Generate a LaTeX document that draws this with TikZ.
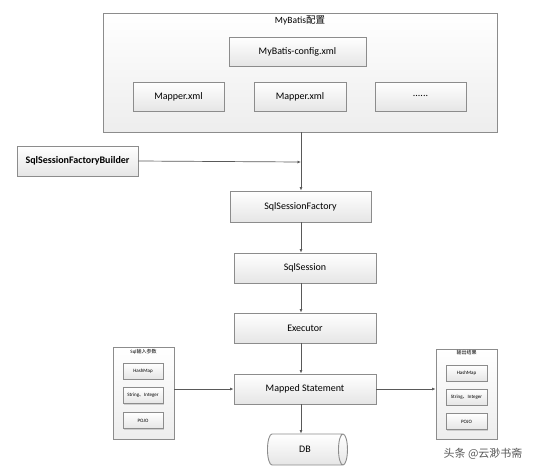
\documentclass[tikz,border=0pt]{standalone}
\usepackage{fontspec}
\setmainfont{Carlito}
\newfontfamily\cjk{Noto Sans CJK SC}
\usetikzlibrary{shapes.geometric,arrows.meta,shadows}
\definecolor{bordergray}{HTML}{8C8C8C}
\definecolor{linegray}{HTML}{595959}
\tikzset{
  boxbase/.style={draw=bordergray, line width=0.9pt, top color=white, bottom color=black!10, inner sep=0pt,
    drop shadow={shadow xshift=1pt, shadow yshift=-1pt, opacity=0.25, fill=black!60}},
  stepbox/.style={boxbase, minimum width=142pt, minimum height=30pt, font=\fontsize{10}{12}\selectfont},
  smallbox/.style={boxbase, line width=0.6pt, minimum width=41pt, minimum height=16pt, font=\fontsize{5}{6}\selectfont},
  groupbox/.style={draw=bordergray, line width=0.9pt, top color=white, bottom color=black!7, inner sep=0pt,
    drop shadow={shadow xshift=1pt, shadow yshift=-1pt, opacity=0.2, fill=black!60}},
  arr/.style={draw=linegray, line width=0.7pt, -{Latex[length=3.5pt,width=3pt]}},
}
\begin{document}
\begin{tikzpicture}[x=1pt,y=-1pt]
\useasboundingbox (0,0) rectangle (554,467);
% MyBatis configuration group
\node[groupbox, minimum width=394pt, minimum height=119pt] (conf) at (300,72.5) {};
\node[font=\fontsize{9.5}{11}\selectfont] (conftitle) at (300,20) {MyBatis{\cjk 配置}};
\node[stepbox, minimum width=137pt, minimum height=29pt] (cfgxml) at (297.5,51.5) {MyBatis-config.xml};
\node[stepbox, minimum width=91pt, minimum height=29pt] (map1) at (178.5,96.5) {Mapper.xml};
\node[stepbox, minimum width=92pt, minimum height=29pt] (map2) at (300,96.5) {Mapper.xml};
\node[stepbox, minimum width=91pt, minimum height=29pt] (map3) at (420.5,96.5) {\raisebox{0.3ex}{......}};
% builder
\node[stepbox, minimum width=121pt, minimum height=30pt, font=\fontsize{10}{12}\selectfont\bfseries] (builder) at (77.5,161) {SqlSessionFactoryBuilder};
% main chain
\coordinate (spine) at (301,0);
\node[stepbox, minimum width=141pt, minimum height=31pt] (sf) at (300.5,206.5) {SqlSessionFactory};
\node[stepbox] (ss) at (305,268) {SqlSession};
\node[stepbox] (ex) at (305,328) {Executor};
\node[stepbox] (ms) at (305,389) {Mapped Statement};
\node[cylinder, draw=bordergray, line width=0.9pt, top color=white, bottom color=black!10,
  minimum width=31pt, minimum height=80pt, aspect=1.4, inner sep=0pt, font=\fontsize{10}{12}\selectfont] (db) at (305,449.5) {DB};
% connectors of the chain
\coordinate (joint) at (301,162);
\draw[arr] (conf.south -| spine) -- (sf.north -| spine);
\draw[arr] (builder.east) -- (joint);
\draw[arr] (sf.south -| spine) -- (ss.north -| spine);
\draw[arr] (ss.south -| spine) -- (ex.north -| spine);
\draw[arr] (ex.south -| spine) -- (ms.north -| spine);
\draw[arr] (ms.south -| spine) -- (db.north -| spine);
% input parameters group
\node[groupbox, minimum width=61pt, minimum height=92pt] (inp) at (143.5,393) {};
\node[font=\fontsize{5}{6}\selectfont] (inptitle) at (143.5,352) {Sql{\cjk 输入参数}};
\node[smallbox, minimum width=40pt] (ihash) at (143,371) {HashMap};
\node[smallbox, minimum width=40pt] (istr) at (143,395.5) {String{\cjk 、}Integer};
\node[smallbox, minimum width=40pt] (ipojo) at (143,420.5) {POJO};
% output group
\node[groupbox, minimum width=61pt, minimum height=90pt] (outp) at (466.5,394) {};
\node[font=\fontsize{5}{6}\selectfont] (outtitle) at (466.5,353) {\cjk 输出结果};
\node[smallbox] (ohash) at (466.5,373) {HashMap};
\node[smallbox] (ostr) at (466.5,397) {String{\cjk 、}Integer};
\node[smallbox] (opojo) at (466.5,421.5) {POJO};
% side connectors
\draw[arr] (inp.east |- ms.west) -- (ms.west);
\draw[arr] (ms.east) -- (outp.west |- ms.east);
% watermark
\node[font=\fontsize{11}{13}\selectfont\cjk, text=black!65, anchor=west] (mark) at (440,454) {头条 @云渺书斋};
\end{tikzpicture}
\end{document}
